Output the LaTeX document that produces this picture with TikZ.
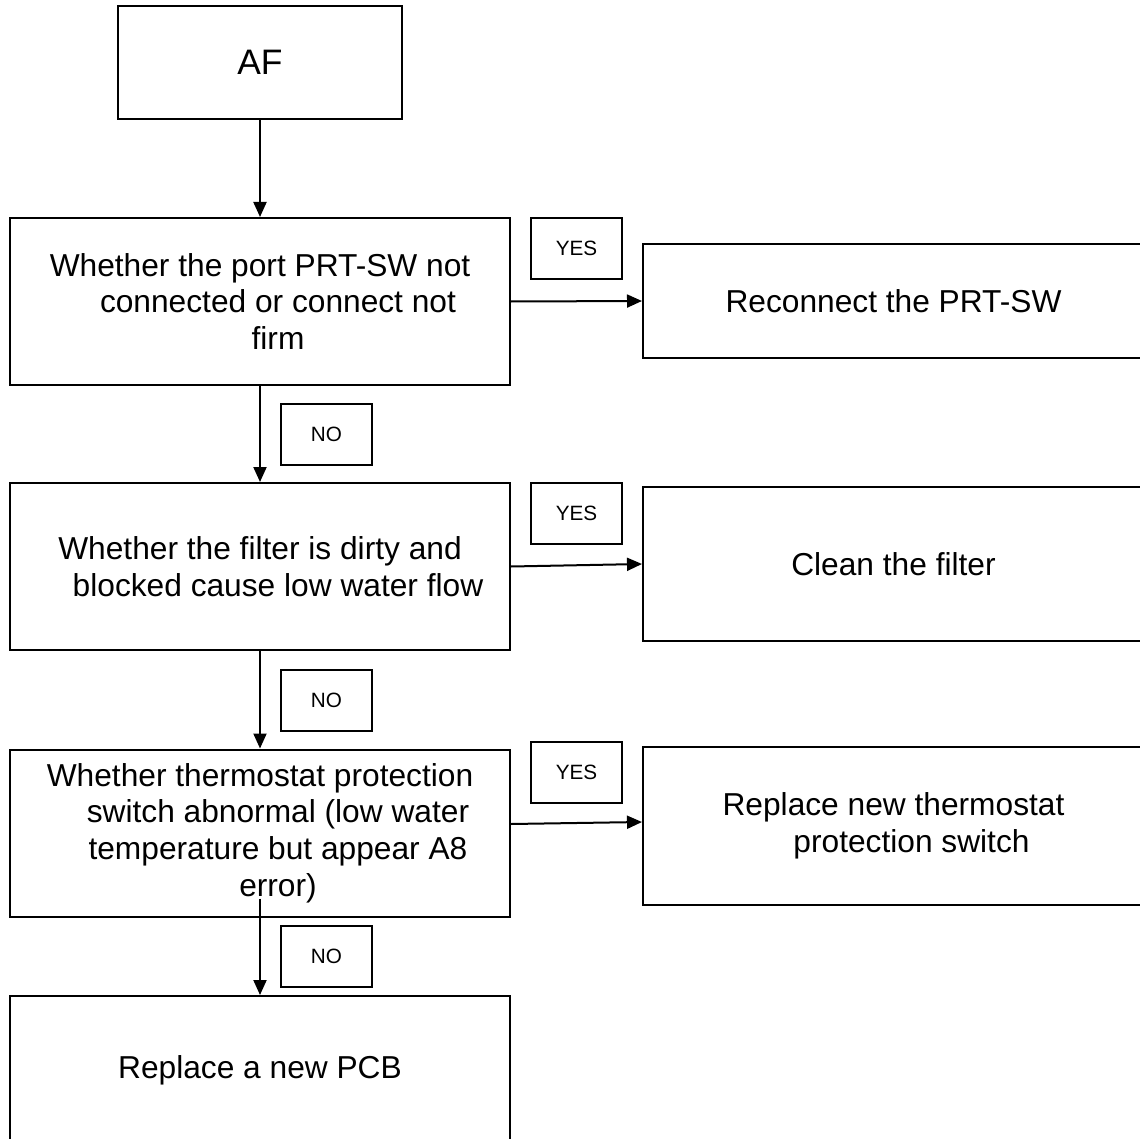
\documentclass[tikz,border=0pt]{standalone}
\usepackage{fontspec}
\setmainfont{Liberation Sans}
\usepackage{xcolor}
\usepackage{tikz}
\usetikzlibrary{arrows.meta,calc}
\tikzset{
  box/.style   ={draw=black, line width=1pt, fill=white, align=center, inner sep=2pt,
                 font=\fontsize{15.85pt}{18.35pt}\selectfont},
  start/.style ={box, minimum width=142pt, minimum height=56.5pt,
                 font=\fontsize{17.7pt}{21pt}\selectfont},
  ask/.style   ={box, minimum width=250pt, minimum height=83.5pt},
  act/.style   ={box, minimum width=250.5pt},
  tag/.style   ={draw=black, line width=1pt, fill=white, align=center, inner sep=1pt,
                 minimum width=45.5pt, minimum height=30.5pt,
                 font=\fontsize{10.35pt}{12pt}\selectfont},
  fl/.style    ={draw=black, line width=1pt, -{Triangle[length=7.5pt,width=6.5pt]}},
}
\newcommand{\idt}{\hspace*{18pt}}

\begin{document}
\begin{tikzpicture}[x=0.5pt,y=-0.5pt]
  \useasboundingbox (0,0) rectangle (1140,1139);
  \clip (0,0) rectangle (1140,1139);
  \node[start] (af) at (260,62.5) {AF};
  \node[ask] (q1) at (260,301.5) {Whether the port PRT-SW not\\\idt connected or connect not\\\idt firm};
  \node[ask] (q2) at (260,566.5) {Whether the filter is dirty and\\\idt blocked cause low water flow};
  \node[ask] (q3) at (260,833) {Whether thermostat protection\\\idt switch abnormal (low water\\\idt temperature but appear A8\\\idt error)};
  \node[ask,minimum height=74pt] (pcb) at (260,1070) {Replace a new PCB};
  \node[act,minimum height=57pt] (a1) at (893.5,301) {Reconnect the PRT-SW};
  \node[act,minimum height=77pt] (a2) at (893.5,564) {Clean the filter};
  \node[act,minimum height=79pt] (a3) at (893.5,826) {Replace new thermostat\\\idt protection switch};
  \node[tag] (y1) at (576.5,248.5) {YES};
  \node[tag] (y2) at (576.5,513.5) {YES};
  \node[tag] (y3) at (576.5,772)   {YES};
  \node[tag] (n1) at (326.5,434)   {NO};
  \node[tag] (n2) at (326.5,700.5) {NO};
  \node[tag] (n3) at (326.5,956.5) {NO};
  \draw[fl] (af.south) -- (q1.north);
  \draw[fl] (q1.south) -- (q2.north);
  \draw[fl] (q2.south) -- (q3.north);
  % the last NO arrow starts inside the box, over the word error
  \coordinate (q3x) at ($(q3.south)+(0,-19)$);
  \draw[fl] (q3x) -- (pcb.north);
  \draw[fl] (q1.east) -- (a1.west);
  \draw[fl] (q2.east) -- (a2.west);
  \draw[fl] ($(q3.east)+(0,-9)$) -- ($(a3.west)+(0,-4)$);
\end{tikzpicture}
\end{document}
